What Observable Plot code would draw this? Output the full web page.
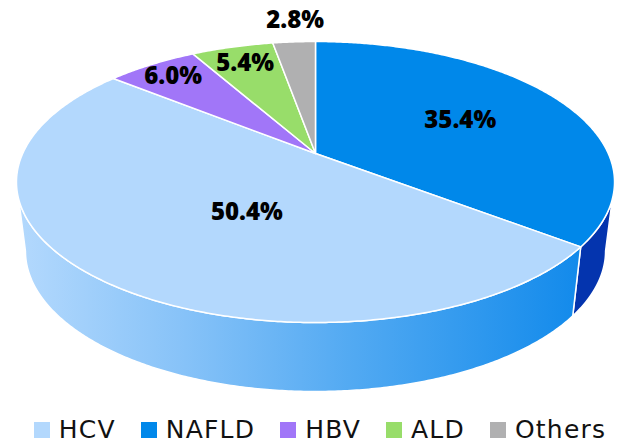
<!DOCTYPE html>
<html>
<head>
<meta charset="utf-8">
<script src="https://cdn.jsdelivr.net/npm/d3@7"></script>
<script src="https://cdn.jsdelivr.net/npm/@observablehq/plot@0.6"></script>
<style>
  html, body { margin: 0; padding: 0; background: #fff; }
  #chart { width: 630px; }
  div.lg-swatches.lg-swatches-wrap {
    font-family: "DejaVu Sans", sans-serif; font-size: 25px; letter-spacing: 1.2px; line-height: 28px;
    color: #111; justify-content: center; min-height: 0; height: 28px; margin: 0; padding-left: 10px;
  }
  div.lg-swatches-wrap span.lg-swatch, div.lg-swatches-wrap .lg-swatch { margin-right: 25px; }
  div.lg-swatches-wrap .lg-swatch:last-child { margin-right: 0; }
  div.lg-swatches .lg-swatch > svg { margin-right: 9px; }
</style>
</head>
<body>
<div id="chart"></div>
<script>
// ---- data ----
const categories = ["HCV", "NAFLD", "HBV", "ALD", "Others"];
const values = [50.4, 35.4, 6.0, 5.4, 2.8];
const colors = ["#b3d8fd", "#0088ea", "#a176f8", "#98dd6a", "#b0b0b1"];
// clockwise drawing order starting at 12 o'clock
const sliceOrder = ["NAFLD", "HCV", "HBV", "ALD", "Others"];
// side-wall colours
const wallColors = {NAFLD: "#0434ae", HCV: "url(#hcvSide)"};
// label placement (radius fraction, angle shift in degrees)
const labelLayout = {NAFLD: [0.58, 0], HCV: [0.456, -10], HBV: [0.85, 0], ALD: [0.82, 0], Others: [1.24, 1]};

// ---- projection of a tilted disk (perspective) ----
const CX = 315, CY = 153, A = 292.8, B = 134.7, K = 0.203;
const DEPTH = 69, BOTTOM_SCALE = 0.97;
function proj(theta, r = 1) {
  const u = r * Math.sin(theta), v = -r * Math.cos(theta);
  const den = 1 - K * v;
  return [CX + A * u / den, CY + B * v / den];
}
function projBottom(theta) {
  const [x, y] = proj(theta, 1);
  return [CX + (x - CX) * BOTTOM_SCALE, y + DEPTH];
}
const rad = d => d * Math.PI / 180;

const total = d3.sum(values);
let acc = 0;
const slices = sliceOrder.map(name => {
  const i = categories.indexOf(name);
  const a0 = acc / total * 2 * Math.PI;
  acc += values[i];
  const a1 = acc / total * 2 * Math.PI;
  return {name, value: values[i], color: colors[i], a0, a1};
});

// top faces
const topPts = [];
for (const s of slices) {
  const [cx, cy] = proj(0, 0);
  topPts.push({id: s.name, x: cx, y: cy});
  const n = Math.max(2, Math.ceil((s.a1 - s.a0) / rad(0.5)));
  for (let k = 0; k <= n; k++) {
    const t = s.a0 + (s.a1 - s.a0) * k / n;
    const [x, y] = proj(t);
    topPts.push({id: s.name, x, y});
  }
}

// side walls (visible front range between silhouette angles)
const thR = Math.acos(-K), thL = 2 * Math.PI - thR;
const wallPts = {};
for (const s of slices) {
  const b0 = Math.max(s.a0, thR), b1 = Math.min(s.a1, thL);
  if (b1 <= b0) continue;
  const pts = [];
  const n = Math.max(2, Math.ceil((b1 - b0) / rad(0.5)));
  for (let k = 0; k <= n; k++) {
    const t = b0 + (b1 - b0) * k / n;
    const [x, y] = proj(t); pts.push({id: s.name, x, y});
  }
  for (let k = n; k >= 0; k--) {
    const t = b0 + (b1 - b0) * k / n;
    const [x, y] = projBottom(t); pts.push({id: s.name, x, y});
  }
  wallPts[s.name] = pts;
}

// labels
const labels = slices.map(s => {
  const [r, shift] = labelLayout[s.name];
  const [x, y] = proj((s.a0 + s.a1) / 2 + rad(shift), r);
  return {x, y, text: s.value.toFixed(1) + "%"};
});

const wallMarks = Object.entries(wallPts).map(([name, pts]) =>
  Plot.line(pts, {x: "x", y: "y", z: "id", curve: "linear-closed",
    fill: wallColors[name], stroke: "white", strokeWidth: 1.5, strokeLinejoin: "round"}));

const plot = Plot.plot({
  width: 630, height: 416, margin: 0,
  x: {type: "identity", axis: null},
  y: {type: "identity", axis: null},
  color: {type: "ordinal", domain: categories, range: colors},
  marks: [
    ...wallMarks,
    Plot.line(topPts, {x: "x", y: "y", z: "id", curve: "linear-closed",
      fill: "id", stroke: "white", strokeWidth: 1.5, strokeLinejoin: "round"}),
    Plot.text(labels, {x: "x", y: "y", text: "text", fontSize: 24, fontWeight: 800,
      fontFamily: "Open Sans", fill: "#000"})
  ]
});

// gradient for the HCV side wall
const defs = d3.select(plot).insert("defs", ":first-child");
const g = defs.append("linearGradient").attr("id", "hcvSide")
  .attr("gradientUnits", "userSpaceOnUse").attr("x1", 16).attr("x2", 580).attr("y1", 0).attr("y2", 0);
[[0, "#b4d9fd"], [0.3, "#86c2f8"], [0.6, "#51a9f2"], [1, "#128aeb"]].forEach(([o, c]) =>
  g.append("stop").attr("offset", o).attr("stop-color", c));

const legend = Plot.legend({
  color: {type: "ordinal", domain: categories, range: colors},
  legend: "swatches", swatchSize: 16, className: "lg"
});

const root = document.getElementById("chart");
root.appendChild(plot);
root.appendChild(legend);
</script>
</body>
</html>
